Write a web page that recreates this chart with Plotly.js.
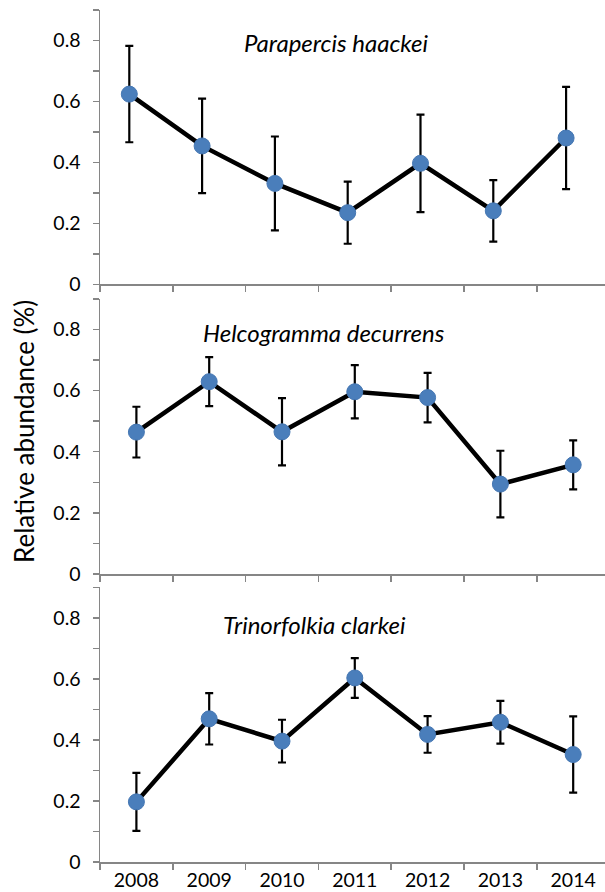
<!DOCTYPE html>
<html>
<head>
<meta charset="utf-8">
<script src="https://cdn.plot.ly/plotly-3.0.1.min.js"></script>
<style>html,body{margin:0;padding:0;background:#fff;}#chart{width:605px;height:892px;}</style>
</head>
<body>
<div id="chart"></div>
<script>
// ---- data ----
const years = [2008, 2009, 2010, 2011, 2012, 2013, 2014];
const yearLabels = ['2008', '2009', '2010', '2011', '2012', '2013', '2014'];

const speciesNames = ['Parapercis haackei', 'Helcogramma decurrens', 'Trinorfolkia clarkei'];

const parapercisMean = [0.624, 0.454, 0.331, 0.235, 0.397, 0.241, 0.480];
const parapercisErr  = [0.158, 0.155, 0.154, 0.102, 0.160, 0.101, 0.168];

const helcogrammaMean = [0.464, 0.629, 0.465, 0.596, 0.577, 0.294, 0.357];
const helcogrammaErr  = [0.083, 0.080, 0.110, 0.087, 0.081, 0.109, 0.080];

const trinorfolkiaMean = [0.197, 0.469, 0.396, 0.603, 0.418, 0.458, 0.352];
const trinorfolkiaErr  = [0.095, 0.084, 0.070, 0.065, 0.060, 0.070, 0.125];

const yTitle = 'Relative abundance (%)';

// ---- layout helpers (pixel geometry) ----
const W = 605, H = 892;
const mL = 100, mR = 0, mT = 10, mB = 30;
const plotH = H - mT - mB;
const plotW = W - mL - mR;
const py = p => (H - mB - p) / plotH;        // pixel y -> paper y
const px = p => (p - mL) / plotW;            // pixel x -> paper x

const gray = '#868686';
const blue = '#4a7ebb';
const font = 'Lato, "Open Sans", sans-serif';

function trace(mean, err, xa, ya) {
  return {
    x: years, y: mean, xaxis: xa, yaxis: ya,
    type: 'scatter', mode: 'lines+markers',
    line: {color: '#000', width: 4.5},
    marker: {color: blue, size: 16, line: {color: '#4577b3', width: 1}},
    error_y: {type: 'data', array: err, visible: true, color: '#000', thickness: 2.2, width: 4},
    hoverinfo: 'x+y', showlegend: false, cliponaxis: false
  };
}

const data = [
  trace(parapercisMean, parapercisErr, 'x', 'y'),
  trace(helcogrammaMean, helcogrammaErr, 'x2', 'y2'),
  trace(trinorfolkiaMean, trinorfolkiaErr, 'x3', 'y3')
];

const span = 6.937; // categories visible across the plot width
function xaxis(anchor, shift, labels) {
  const lo = years[0] - 0.5 + shift;
  return {
    anchor: anchor, domain: [0, 1], type: 'linear',
    range: [lo, lo + span],
    showgrid: false, zeroline: false,
    showline: true, linecolor: gray, linewidth: 1.5,
    tickmode: 'array', tickvals: years, ticktext: yearLabels,
    ticks: '', showticklabels: labels, ticklabelstandoff: 0,
    tickfont: {family: font, size: 19.5, color: '#000'},
    minor: {tick0: lo, dtick: 1, ticks: 'outside', ticklen: 6, tickcolor: gray, tickwidth: 1.5, showgrid: false}
  };
}
function yaxis(anchor, top, bottom) {
  return {
    anchor: anchor, domain: [py(bottom), py(top)],
    range: [0, 0.9], showgrid: false, zeroline: false,
    showline: true, linecolor: gray, linewidth: 1.5,
    tickmode: 'linear', tick0: 0, dtick: 0.2,
    ticks: 'outside', ticklen: 6, tickcolor: gray, tickwidth: 1.5,
    ticklabelstandoff: 8,
    tickfont: {family: font, size: 19.5, color: '#000'},
    minor: {dtick: 0.1, ticks: 'outside', ticklen: 6, tickcolor: gray, tickwidth: 1.5, showgrid: false}
  };
}

const titleFont = {family: font, size: 24, color: '#000'};
function label(text, cx, cy) {
  return {text: '<i>' + text + '</i>', xref: 'paper', yref: 'paper', x: px(cx), y: py(cy),
          xanchor: 'center', yanchor: 'middle', showarrow: false, font: titleFont};
}

const layout = {
  width: W, height: H,
  margin: {l: mL, r: mR, t: mT, b: mB, pad: 0},
  paper_bgcolor: '#fff', plot_bgcolor: '#fff',
  font: {family: font, color: '#000'},
  xaxis: xaxis('y', 0.0975, false),
  xaxis2: xaxis('y2', 0, false),
  xaxis3: xaxis('y3', 0, true),
  yaxis: yaxis('x', 9.8, 284.3),
  yaxis2: yaxis('x2', 298.8, 574),
  yaxis3: yaxis('x3', 587.3, 862.3),
  annotations: [
    label(speciesNames[0], 336.5, 43),
    label(speciesNames[1], 324, 332),
    label(speciesNames[2], 314.5, 624),
    {text: yTitle, xref: 'paper', yref: 'paper', x: px(24), y: py(432), textangle: -90,
     xanchor: 'center', yanchor: 'middle', showarrow: false, font: {family: font, size: 26, color: '#000'}}
  ]
};

Plotly.newPlot('chart', data, layout, {displayModeBar: false, staticPlot: true});
</script>
</body>
</html>
